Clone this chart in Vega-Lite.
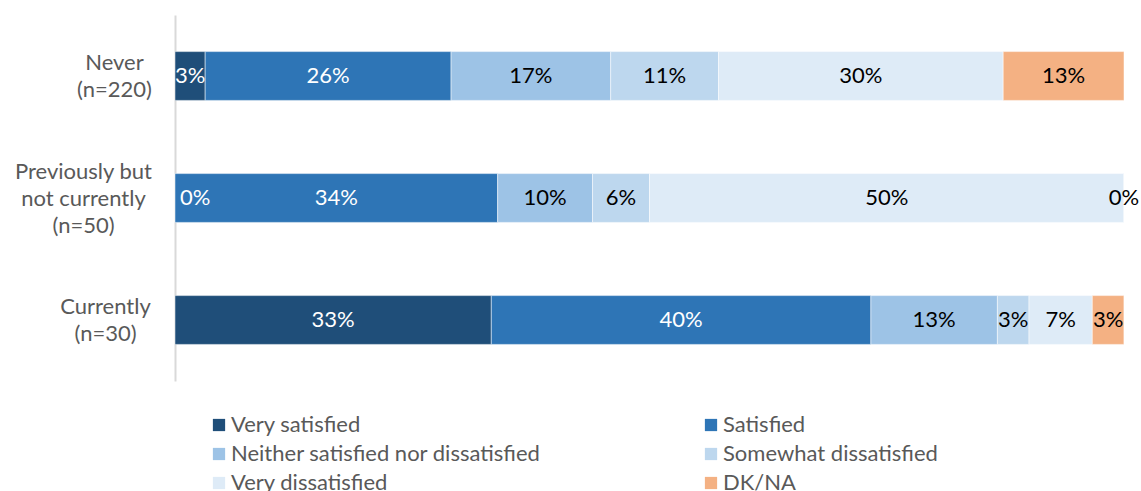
{
  "$schema": "https://vega.github.io/schema/vega-lite/v6.json",
  "width": 949,
  "height": 366,
  "autosize": "none",
  "padding": {"left": 175, "top": 15, "right": 17, "bottom": 110},
  "background": "white",
  "config": {"view": {"stroke": null}, "font": "Lato"},
  "data": {
    "values": [
      {"group": "Never (n=220)", "response": "Very satisfied", "rank": 1, "share": 0.0318},
      {"group": "Never (n=220)", "response": "Satisfied", "rank": 2, "share": 0.2591},
      {"group": "Never (n=220)", "response": "Neither satisfied nor dissatisfied", "rank": 3, "share": 0.1682},
      {"group": "Never (n=220)", "response": "Somewhat dissatisfied", "rank": 4, "share": 0.1136},
      {"group": "Never (n=220)", "response": "Very dissatisfied", "rank": 5, "share": 0.3},
      {"group": "Never (n=220)", "response": "DK/NA", "rank": 6, "share": 0.1273},
      {"group": "Previously but not currently (n=50)", "response": "Very satisfied", "rank": 1, "share": 0},
      {"group": "Previously but not currently (n=50)", "response": "Satisfied", "rank": 2, "share": 0.34},
      {"group": "Previously but not currently (n=50)", "response": "Neither satisfied nor dissatisfied", "rank": 3, "share": 0.1},
      {"group": "Previously but not currently (n=50)", "response": "Somewhat dissatisfied", "rank": 4, "share": 0.06},
      {"group": "Previously but not currently (n=50)", "response": "Very dissatisfied", "rank": 5, "share": 0.5},
      {"group": "Previously but not currently (n=50)", "response": "DK/NA", "rank": 6, "share": 0},
      {"group": "Currently (n=30)", "response": "Very satisfied", "rank": 1, "share": 0.3333},
      {"group": "Currently (n=30)", "response": "Satisfied", "rank": 2, "share": 0.4},
      {"group": "Currently (n=30)", "response": "Neither satisfied nor dissatisfied", "rank": 3, "share": 0.1333},
      {"group": "Currently (n=30)", "response": "Somewhat dissatisfied", "rank": 4, "share": 0.0333},
      {"group": "Currently (n=30)", "response": "Very dissatisfied", "rank": 5, "share": 0.0667},
      {"group": "Currently (n=30)", "response": "DK/NA", "rank": 6, "share": 0.0333}
    ]
  },
  "encoding": {
    "y": {
      "field": "group",
      "type": "nominal",
      "sort": ["Never (n=220)", "Previously but not currently (n=50)", "Currently (n=30)"],
      "scale": {"paddingInner": 0.6, "paddingOuter": 0.3},
      "axis": {
        "title": null,
        "ticks": false,
        "domainColor": "#D9D9D9",
        "domainWidth": 2,
        "labelFont": "Lato",
        "labelFontSize": 22,
        "labelColor": "#595959",
        "labelAlign": "center",
        "labelBaseline": "middle",
        "labelLineHeight": 27,
        "labelOffset": {
          "condition": {"test": "datum.value == 'Previously but not currently (n=50)'", "value": -26},
          "value": -13
        },
        "labelPadding": {
          "condition": [
            {"test": "datum.value == 'Previously but not currently (n=50)'", "value": 92},
            {"test": "datum.value == 'Currently (n=30)'", "value": 70}
          ],
          "value": 61
        },
        "labelExpr": "datum.value == 'Never (n=220)' ? ['Never', '(n=220)'] : datum.value == 'Currently (n=30)' ? ['Currently', '(n=30)'] : ['Previously but', 'not currently', '(n=50)']"
      }
    }
  },
  "layer": [
    {
      "mark": {"type": "bar", "stroke": "white", "strokeWidth": 0.5},
      "encoding": {
        "x": {
          "field": "share",
          "type": "quantitative",
          "stack": "zero",
          "scale": {"domain": [0, 1], "nice": false},
          "axis": null
        },
        "color": {
          "field": "response",
          "type": "nominal",
          "scale": {
            "domain": ["Very satisfied", "Satisfied", "Neither satisfied nor dissatisfied", "Somewhat dissatisfied", "Very dissatisfied", "DK/NA"],
            "range": ["#1F4E79", "#2E75B6", "#9DC3E6", "#BDD7EE", "#DEEBF7", "#F4B183"]
          },
          "legend": {
            "title": null,
            "orient": "none",
            "direction": "horizontal",
            "legendX": 33,
            "legendY": 399,
            "columns": 2,
            "columnPadding": 159,
            "rowPadding": 7,
            "symbolType": "square",
            "symbolSize": 150,
            "symbolStrokeWidth": 0,
            "labelFont": "Lato",
            "labelFontSize": 22,
            "labelColor": "#595959",
            "labelOffset": 1,
            "labelLimit": 500,
            "padding": 0
          }
        },
        "order": {"field": "rank", "type": "quantitative"}
      }
    },
    {
      "transform": [{"filter": "datum.share > 0 || datum.rank > 1"}],
      "mark": {"type": "text", "fontSize": 22, "font": "Lato", "baseline": "middle", "align": "center"},
      "encoding": {
        "x": {"field": "share", "type": "quantitative", "stack": "zero", "bandPosition": 0.5},
        "detail": {"field": "response"},
        "order": {"field": "rank", "type": "quantitative"},
        "text": {"field": "share", "type": "quantitative", "format": ".0%"},
        "color": {
          "condition": {"test": "datum.rank <= 2", "value": "white"},
          "value": "#000000"
        }
      }
    },
    {
      "transform": [{"filter": "datum.share == 0 && datum.rank == 1"}],
      "mark": {"type": "text", "fontSize": 22, "font": "Lato", "baseline": "middle", "align": "left", "dx": 5, "color": "white"},
      "encoding": {
        "x": {"field": "share", "type": "quantitative", "stack": null},
        "text": {"field": "share", "type": "quantitative", "format": ".0%"}
      }
    }
  ]
}
